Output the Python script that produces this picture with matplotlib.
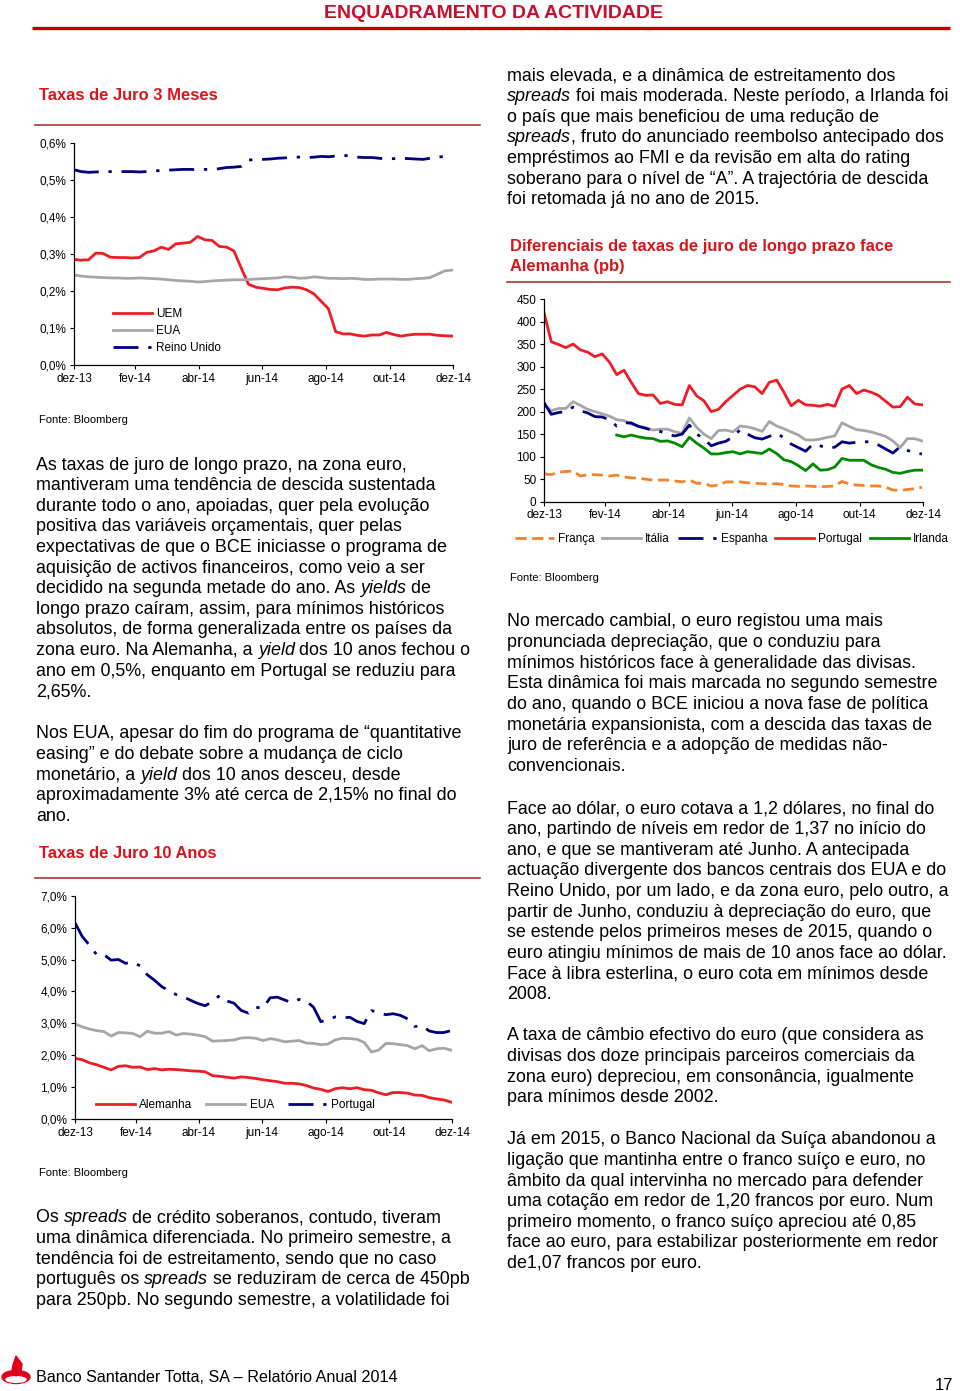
import numpy as np
import pandas as pd
import matplotlib
matplotlib.use('Agg')
import matplotlib.pyplot as plt
from matplotlib.patches import Ellipse, Polygon
from matplotlib.font_manager import FontProperties, findfont
from matplotlib.ft2font import FT2Font

plt.rcParams['font.family'] = ['Liberation Sans', 'DejaVu Sans']

# ---- data (weekly readings, dez-13 .. dez-14) ----
weeks = pd.date_range('2013-12-31', periods=53, freq='7D')
month_ticks = pd.to_datetime(['2013-12-31', '2014-02-28', '2014-04-30', '2014-06-30',
                              '2014-08-31', '2014-10-31', '2014-12-31'])
month_labels = ['dez-13', 'fev-14', 'abr-14', 'jun-14', 'ago-14', 'out-14', 'dez-14']

# Taxas de Juro 3 Meses (%)
uem_3m = [0.285, 0.283, 0.284, 0.302, 0.301, 0.291, 0.290, 0.290, 0.289, 0.290, 0.304, 0.308,
          0.318, 0.312, 0.327, 0.329, 0.331, 0.347, 0.338, 0.336, 0.320, 0.318, 0.308, 0.262,
          0.218, 0.210, 0.207, 0.204, 0.203, 0.208, 0.210, 0.209, 0.203, 0.192, 0.172, 0.152,
          0.090, 0.084, 0.084, 0.080, 0.078, 0.081, 0.081, 0.088, 0.082, 0.078, 0.081, 0.083,
          0.083, 0.083, 0.080, 0.079, 0.078]
eua_3m = [0.243, 0.240, 0.238, 0.237, 0.236, 0.235, 0.235, 0.234, 0.234, 0.235, 0.234, 0.233,
          0.232, 0.230, 0.228, 0.227, 0.226, 0.224, 0.225, 0.227, 0.228, 0.229, 0.230, 0.230,
          0.231, 0.232, 0.233, 0.234, 0.235, 0.238, 0.237, 0.234, 0.235, 0.238, 0.236, 0.234,
          0.234, 0.233, 0.234, 0.233, 0.231, 0.231, 0.232, 0.232, 0.232, 0.231, 0.231, 0.233,
          0.234, 0.236, 0.245, 0.254, 0.256]
uk_3m = [0.527, 0.522, 0.520, 0.521, 0.522, 0.522, 0.522, 0.522, 0.522, 0.521, 0.522, 0.524,
         0.525, 0.526, 0.527, 0.528, 0.528, 0.527, 0.528, 0.527, 0.530, 0.533, 0.534, 0.536,
         0.553, 0.555, 0.555, 0.556, 0.558, 0.559, 0.561, 0.561, 0.560, 0.561, 0.563, 0.562,
         0.564, 0.566, 0.564, 0.561, 0.560, 0.560, 0.558, 0.556, 0.557, 0.558, 0.557, 0.556,
         0.555, 0.558, 0.561, 0.563, 0.565]

# Diferenciais face a Alemanha (pb)
franca = [62, 60, 66, 67, 68, 57, 60, 60, 59, 57, 59, 55, 53, 52, 50, 48, 48, 48, 46, 44, 48,
          41, 41, 35, 37, 44, 44, 44, 42, 41, 40, 39, 40, 38, 35, 34, 35, 34, 33, 34, 35, 45,
          39, 37, 36, 35, 35, 32, 26, 25, 27, 29, 32]
italia = [215, 202, 207, 207, 222, 214, 205, 200, 195, 190, 182, 180, 172, 168, 164, 159, 161,
          161, 155, 152, 186, 165, 150, 140, 158, 159, 155, 168, 166, 162, 156, 178, 168, 162,
          155, 148, 137, 137, 139, 143, 146, 175, 167, 160, 158, 155, 150, 145, 135, 120, 140,
          140, 135]
espanha = [220, 194, 198, 200, 210, 202, 197, 189, 188, 182, 168, 175, 175, 167, 163, 158, 156,
           150, 146, 150, 170, 150, 140, 124, 130, 134, 144, 160, 150, 142, 139, 145, 152, 142,
           128, 120, 112, 128, 124, 119, 121, 133, 130, 132, 133, 133, 126, 117, 108, 122, 114,
           108, 106]
portugal_sp = [420, 355, 349, 342, 350, 337, 332, 322, 328, 310, 282, 292, 265, 240, 236, 237,
               218, 222, 216, 215, 258, 235, 224, 200, 205, 222, 236, 250, 258, 255, 240, 265,
               270, 243, 213, 225, 215, 214, 212, 216, 212, 250, 258, 240, 248, 243, 236, 223,
               210, 211, 232, 217, 215]
irlanda = [148, 144, 148, 144, 141, 140, 134, 135, 130, 122, 143, 130, 119, 106, 106, 109, 111,
           106, 111, 109, 107, 117, 107, 93, 89, 80, 69, 84, 70, 71, 77, 96, 92, 92, 92, 82, 76,
           72, 65, 63, 67, 70, 70]
irlanda_start = 10

# Taxas de Juro 10 Anos (%)
alemanha_10 = [1.90, 1.86, 1.76, 1.70, 1.62, 1.54, 1.65, 1.67, 1.62, 1.63, 1.55, 1.58, 1.54,
               1.56, 1.55, 1.53, 1.51, 1.50, 1.48, 1.36, 1.34, 1.31, 1.28, 1.32, 1.30, 1.27,
               1.23, 1.20, 1.17, 1.12, 1.12, 1.10, 1.05, 0.97, 0.93, 0.86, 0.95, 0.98, 0.95,
               0.98, 0.92, 0.90, 0.82, 0.76, 0.83, 0.83, 0.81, 0.75, 0.74, 0.67, 0.63, 0.60, 0.53]
eua_10 = [2.98, 2.89, 2.82, 2.77, 2.74, 2.60, 2.71, 2.70, 2.68, 2.58, 2.75, 2.69, 2.69, 2.74,
          2.63, 2.68, 2.66, 2.63, 2.58, 2.44, 2.45, 2.46, 2.48, 2.54, 2.55, 2.53, 2.46, 2.52,
          2.48, 2.42, 2.44, 2.46, 2.38, 2.37, 2.33, 2.35, 2.48, 2.53, 2.52, 2.50, 2.40, 2.10,
          2.16, 2.37, 2.36, 2.33, 2.30, 2.20, 2.30, 2.14, 2.20, 2.22, 2.16]
portugal_10 = [6.15, 5.72, 5.45, 5.15, 5.15, 4.98, 5.00, 4.88, 4.92, 4.80, 4.52, 4.35, 4.15,
               4.02, 3.90, 3.83, 3.72, 3.62, 3.55, 3.68, 3.87, 3.70, 3.63, 3.40, 3.32, 3.50,
               3.48, 3.80, 3.82, 3.73, 3.65, 3.75, 3.70, 3.50, 3.05, 3.12, 3.20, 3.17, 3.19,
               3.06, 2.99, 3.40, 3.32, 3.27, 3.30, 3.25, 3.14, 2.90, 2.92, 2.76, 2.71, 2.71, 2.77]

yt_3m = [0.0, 0.1, 0.2, 0.3, 0.4, 0.5, 0.6]
yl_3m = ['0,0%', '0,1%', '0,2%', '0,3%', '0,4%', '0,5%', '0,6%']
yt_sp = [0, 50, 100, 150, 200, 250, 300, 350, 400, 450]
yt_10 = [0, 1, 2, 3, 4, 5, 6, 7]
yl_10 = ['0,0%', '1,0%', '2,0%', '3,0%', '4,0%', '5,0%', '6,0%', '7,0%']

# ---- styles ----
RED = '#ee1c25'
GREY = '#a6a6a6'
NAVY = '#000080'
GREEN = '#008a00'
ORANGE = '#f5822a'
TITLE_RED = '#d9141b'
RULE = '#a33a3a'
DASHDOT = (9, 3.5, 1.2, 3.5)
LW = 2.0
TICK_FS = 8.5
BODY_FS = 12.9
TITLE_FS = 11.9

W, H = 960, 1391
fig = plt.figure(figsize=(W / 100, H / 100), dpi=100)
page = fig.add_axes([0, 0, 1, 1])
page.set_xlim(0, W)
page.set_ylim(H, 0)
page.axis('off')


def add_chart(l, t, r, b):
    ax = fig.add_axes([l / W, 1 - b / H, (r - l) / W, (b - t) / H])
    for s in ['top', 'right']:
        ax.spines[s].set_visible(False)
    for s in ['left', 'bottom']:
        ax.spines[s].set_linewidth(0.9)
    ax.tick_params(labelsize=TICK_FS, length=3, width=0.8, pad=2.5)
    ax.set_xlim(month_ticks[0], month_ticks[-1])
    ax.set_xticks(month_ticks)
    ax.set_xticklabels(month_labels)
    ax.patch.set_alpha(0)
    return ax


# chart 1: 3 meses
ax1 = add_chart(74, 142.7, 453, 365)
ax1.plot(weeks, uem_3m, color=RED, lw=LW, label='UEM')
ax1.plot(weeks, eua_3m, color=GREY, lw=LW, label='EUA')
ax1.plot(weeks, uk_3m, color=NAVY, lw=LW, dashes=DASHDOT, label='Reino Unido')
ax1.set_ylim(0, 0.6)
ax1.set_yticks(yt_3m)
ax1.set_yticklabels(yl_3m)
ax1.legend(loc='upper left', bbox_to_anchor=(0.103, 0.258), frameon=False, fontsize=TICK_FS,
           handlelength=3.3, handletextpad=0.35, labelspacing=0.45, borderpad=0, borderaxespad=0)

# chart 2: spreads
ax2 = add_chart(544, 299, 923, 501.7)
ax2.plot(weeks, franca, color=ORANGE, lw=LW, dashes=(4, 2), label='França')
ax2.plot(weeks, italia, color=GREY, lw=LW, label='Itália')
ax2.plot(weeks, espanha, color=NAVY, lw=LW, dashes=DASHDOT, label='Espanha')
ax2.plot(weeks, portugal_sp, color=RED, lw=LW, label='Portugal')
ax2.plot(weeks[irlanda_start:], irlanda, color=GREEN, lw=LW, label='Irlanda')
ax2.set_ylim(0, 450)
ax2.set_yticks(yt_sp)
ax2.legend(loc='upper left', bbox_to_anchor=(-0.077, -0.155), ncol=5, frameon=False,
           fontsize=TICK_FS, handlelength=3.3, handletextpad=0.35, columnspacing=0.65,
           borderpad=0, borderaxespad=0)

# chart 3: 10 anos
ax3 = add_chart(75, 895.7, 452, 1119)
ax3.plot(weeks, alemanha_10, color=RED, lw=LW, label='Alemanha')
ax3.plot(weeks, eua_10, color=GREY, lw=LW, label='EUA')
ax3.plot(weeks, portugal_10, color=NAVY, lw=LW, dashes=DASHDOT, label='Portugal')
ax3.set_ylim(0, 7)
ax3.set_yticks(yt_10)
ax3.set_yticklabels(yl_10)
ax3.legend(loc='upper left', bbox_to_anchor=(0.056, 0.09), ncol=3, frameon=False,
           fontsize=TICK_FS, handlelength=3.3, handletextpad=0.35, columnspacing=1.2,
           borderpad=0, borderaxespad=0)

# ---- page furniture ----
page.text(494, 14, 'ENQUADRAMENTO DA ACTIVIDADE', ha='center', va='center', fontsize=14,
          fontweight='bold', color='#c8102e', family=['Liberation Sans Narrow', 'Liberation Sans'])
page.plot([32, 950], [28, 28], color='#c00000', lw=2.4, solid_capstyle='butt')

page.text(39, 95, 'Taxas de Juro 3 Meses', fontsize=TITLE_FS, fontweight='bold',
          color=TITLE_RED, va='center')
page.plot([35, 480], [125, 125], color=RULE, lw=1.2)
page.text(39, 420, 'Fonte: Bloomberg', fontsize=8, va='center')

page.text(510, 246, 'Diferenciais de taxas de juro de longo prazo face', fontsize=TITLE_FS,
          fontweight='bold', color=TITLE_RED, va='center')
page.text(510, 267, 'Alemanha (pb)', fontsize=TITLE_FS, fontweight='bold', color=TITLE_RED,
          va='center')
page.plot([507, 950], [282, 282], color=RULE, lw=1.2)
page.text(510, 578, 'Fonte: Bloomberg', fontsize=8, va='center')

page.text(39, 853, 'Taxas de Juro 10 Anos', fontsize=TITLE_FS, fontweight='bold',
          color=TITLE_RED, va='center')
page.plot([35, 480], [878, 878], color=RULE, lw=1.2)
page.text(39, 1173, 'Fonte: Bloomberg', fontsize=8, va='center')

fonts = {}


def advance(s, style):
    # sum of glyph advances (pixels at 100 dpi), kerning included
    if style not in fonts:
        f = FT2Font(findfont(FontProperties(family='Liberation Sans', style=style)))
        f.set_size(BODY_FS, 100)
        fonts[style] = f
    f = fonts[style]
    total = 0.0
    prev = None
    for c in s:
        idx = f.get_char_index(ord(c))
        if prev is not None:
            total += f.get_kerning(prev, idx, 0) / 64
        total += f.load_char(ord(c)).linearHoriAdvance / 65536
        prev = idx
    return total


def paragraph(x, y, lines, pitch=20.6):
    for line in lines:
        xpos = x
        for i, part in enumerate(line.split('*')):
            if not part:
                continue
            style = 'italic' if i % 2 else 'normal'
            page.text(xpos, y, part, fontsize=BODY_FS, style=style, va='center', ha='left')
            xpos += advance(part, style)
        y += pitch


paragraph(36, 465, [
    'As taxas de juro de longo prazo, na zona euro,',
    'mantiveram uma tendência de descida sustentada',
    'durante todo o ano, apoiadas, quer pela evolução',
    'positiva das variáveis orçamentais, quer pelas',
    'expectativas de que o BCE iniciasse o programa de',
    'aquisição de activos financeiros, como veio a ser',
    'decidido na segunda metade do ano. As *yields* de',
    'longo prazo caíram, assim, para mínimos históricos',
    'absolutos, de forma generalizada entre os países da',
    'zona euro. Na Alemanha, a *yield* dos 10 anos fechou o',
    'ano em 0,5%, enquanto em Portugal se reduziu para',
    '2,65%.'])
paragraph(36, 734, [
    'Nos EUA, apesar do fim do programa de \u201cquantitative',
    'easing\u201d e do debate sobre a mudança de ciclo',
    'monetário, a *yield* dos 10 anos desceu, desde',
    'aproximadamente 3% até cerca de 2,15% no final do',
    'ano.'])
paragraph(36, 1218, [
    'Os *spreads* de crédito soberanos, contudo, tiveram',
    'uma dinâmica diferenciada. No primeiro semestre, a',
    'tendência foi de estreitamento, sendo que no caso',
    'português os *spreads* se reduziram de cerca de 450pb',
    'para 250pb. No segundo semestre, a volatilidade foi'])
paragraph(507, 76, [
    'mais elevada, e a dinâmica de estreitamento dos',
    '*spreads* foi mais moderada. Neste período, a Irlanda foi',
    'o país que mais beneficiou de uma redução de',
    '*spreads*, fruto do anunciado reembolso antecipado dos',
    'empréstimos ao FMI e da revisão em alta do rating',
    'soberano para o nível de \u201cA\u201d. A trajectória de descida',
    'foi retomada já no ano de 2015.'])
paragraph(507, 622, [
    'No mercado cambial, o euro registou uma mais',
    'pronunciada depreciação, que o conduziu para',
    'mínimos históricos face à generalidade das divisas.',
    'Esta dinâmica foi mais marcada no segundo semestre',
    'do ano, quando o BCE iniciou a nova fase de política',
    'monetária expansionista, com a descida das taxas de',
    'juro de referência e a adopção de medidas não-',
    'convencionais.'])
paragraph(507, 809, [
    'Face ao dólar, o euro cotava a 1,2 dólares, no final do',
    'ano, partindo de níveis em redor de 1,37 no início do',
    'ano, e que se mantiveram até Junho. A antecipada',
    'actuação divergente dos bancos centrais dos EUA e do',
    'Reino Unido, por um lado, e da zona euro, pelo outro, a',
    'partir de Junho, conduziu à depreciação do euro, que',
    'se estende pelos primeiros meses de 2015, quando o',
    'euro atingiu mínimos de mais de 10 anos face ao dólar.',
    'Face à libra esterlina, o euro cota em mínimos desde',
    '2008.'])
paragraph(507, 1036, [
    'A taxa de câmbio efectivo do euro (que considera as',
    'divisas dos doze principais parceiros comerciais da',
    'zona euro) depreciou, em consonância, igualmente',
    'para mínimos desde 2002.'])
paragraph(507, 1140, [
    'Já em 2015, o Banco Nacional da Suíça abandonou a',
    'ligação que mantinha entre o franco suíço e euro, no',
    'âmbito da qual intervinha no mercado para defender',
    'uma cotação em redor de 1,20 francos por euro. Num',
    'primeiro momento, o franco suíço apreciou até 0,85',
    'face ao euro, para estabilizar posteriormente em redor',
    'de1,07 francos por euro.'])

# footer with logo
page.add_patch(Ellipse((16, 1377), 28, 13, color='#e2001a'))
page.add_patch(Ellipse((16, 1379.5), 20, 5.5, color='white'))
page.add_patch(Polygon([[16, 1356], [22, 1364], [21, 1372], [16, 1376], [12, 1371], [13, 1365]],
                       closed=True, color='#e2001a'))
page.text(36, 1378, 'Banco Santander Totta, SA \u2013 Relatório Anual 2014', fontsize=11.6,
          va='center', family=['Liberation Sans Narrow', 'Liberation Sans'])
page.text(935, 1385, '17', fontsize=12, va='center',
          family=['Liberation Sans Narrow', 'Liberation Sans'])

fig.savefig('out.png', dpi=100)
